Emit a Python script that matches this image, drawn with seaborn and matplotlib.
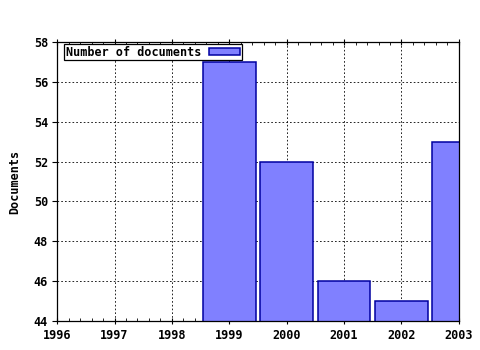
import matplotlib
matplotlib.use("Agg")
import matplotlib.pyplot as plt
import seaborn as sns
import pandas as pd
from matplotlib.ticker import MultipleLocator

years = [1999, 2000, 2001, 2002, 2003]
documents = [57, 52, 46, 45, 53]
xticks = [1996, 1997, 1998, 1999, 2000, 2001, 2002, 2003]
yticks = [44, 46, 48, 50, 52, 54, 56, 58]

sns.set_style("white")
plt.rcParams['font.family'] = ['DejaVu Sans Mono']
plt.rcParams['font.weight'] = 'bold'
plt.rcParams['text.color'] = 'black'
plt.rcParams['axes.labelcolor'] = 'black'
plt.rcParams['xtick.color'] = 'black'
plt.rcParams['ytick.color'] = 'black'

df = pd.DataFrame({"year": years, "docs": documents})

fig = plt.figure(figsize=(4.8, 3.5), dpi=100)
ax = fig.add_axes([0.119, 0.083, 0.837, 0.797])
sns.barplot(data=df, x="year", y="docs", native_scale=True, width=0.92,
            color="#8080ff", saturation=1, edgecolor="#0000a0", linewidth=1.1,
            ax=ax, label="Number of documents", zorder=2)
ax.set_xlim(1996, 2003)
ax.set_ylim(44, 58)
ax.set_xticks(xticks)
ax.set_yticks(yticks)
ax.xaxis.set_minor_locator(MultipleLocator(0.2))
ax.set_xticklabels([str(t) for t in xticks], fontsize=8.5, fontweight='bold', color='black')
ax.set_yticklabels([str(t) for t in yticks], fontsize=8.5, fontweight='bold', color='black')
ax.tick_params(axis='x', which='major', direction='inout', length=5, width=0.8,
               color='black', labelcolor='black', top=True, bottom=True, pad=3)
ax.tick_params(axis='x', which='minor', direction='in', length=2.5, width=0.6,
               color='black', top=True, bottom=True)
ax.tick_params(axis='y', which='major', direction='out', length=3.5, width=0.8,
               color='black', labelcolor='black', left=True, right=False, pad=3)
ax.tick_params(axis='y', which='minor', left=False, right=False)
ax.grid(True, which='major', linestyle=(0, (2, 2.5)), color='black', linewidth=0.6, zorder=0)
ax.set_axisbelow(True)
for s in ax.spines.values():
    s.set_color('black')
    s.set_linewidth(0.9)
ax.set_xlabel("")
ax.set_ylabel("Documents", fontsize=8.5, fontweight='bold', labelpad=9, color='black')
leg = ax.legend(loc='upper left', bbox_to_anchor=(0.017, 0.993), fontsize=8.5, frameon=True,
                fancybox=False, edgecolor='black', framealpha=1, borderpad=0.15,
                handlelength=2.6, handleheight=0.45, handletextpad=0.7, borderaxespad=0,
                markerfirst=False)
leg.get_frame().set_linewidth(0.9)
for t in leg.get_texts():
    t.set_color('black')
fig.savefig("out.png", dpi=100)
